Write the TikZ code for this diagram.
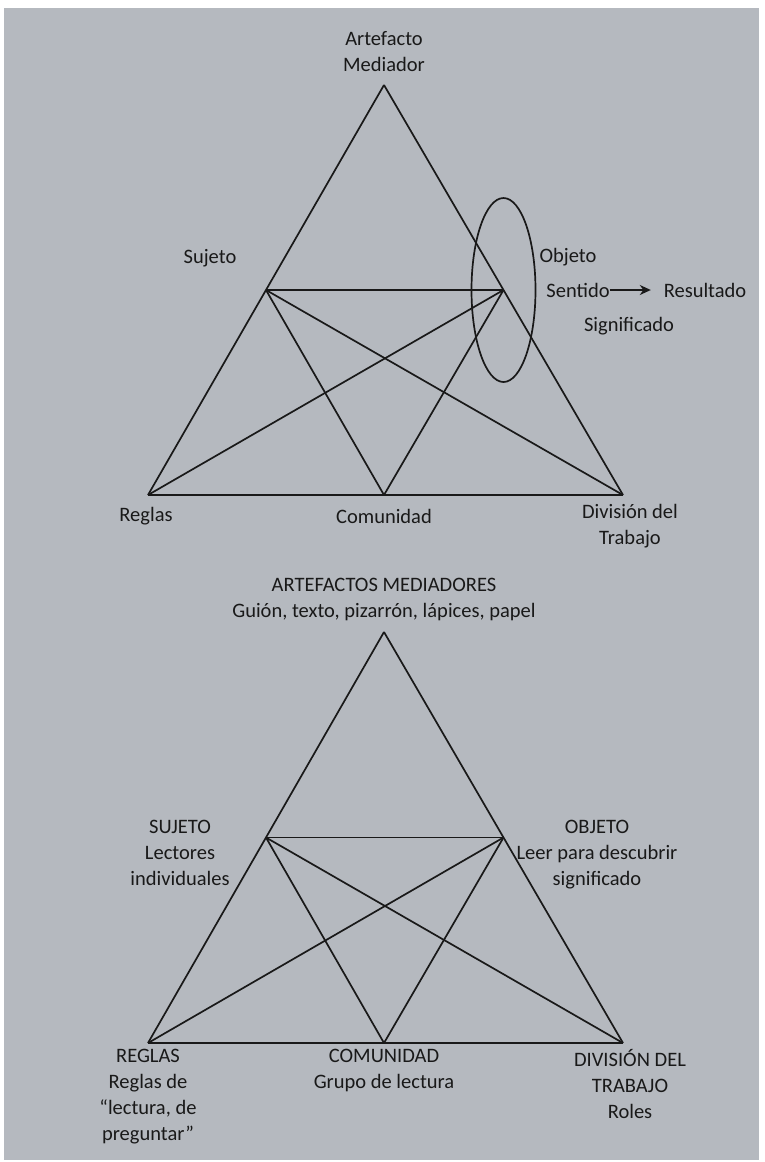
\documentclass[tikz,border=0pt]{standalone}
\usepackage{fontspec}
\setmainfont{Carlito}
\usetikzlibrary{arrows.meta,calc}
\definecolor{bg}{RGB}{181,185,191}
\definecolor{ink}{RGB}{25,25,25}
\begin{document}
\begin{tikzpicture}[x=1pt,y=-1pt,
  lbl/.style={inner sep=0pt, align=center, text=ink, font=\fontsize{20.5}{26}\selectfont},
  edge/.style={draw=ink, line width=1.7pt, line join=round}]
\useasboundingbox (0,0) rectangle (764,1162);
\fill[white] (0,0) rectangle (764,1162);
\fill[bg] (4,8) rectangle (759,1160);

% ---------- top triangle ----------
\coordinate (A1) at (384,85);
\coordinate (R1) at (148,495);
\coordinate (C1) at (384,495);
\coordinate (D1) at (623,495);
\coordinate (S1) at ($(A1)!0.5!(R1)$);
\coordinate (O1) at ($(A1)!0.5!(D1)$);
\draw[edge] (A1) -- (R1);
\draw[edge] (A1) -- (D1);
\draw[edge] (R1) -- (D1);
\draw[edge] (S1) -- (O1);
\draw[edge] (S1) -- (C1);
\draw[edge] (S1) -- (D1);
\draw[edge] (O1) -- (R1);
\draw[edge] (O1) -- (C1);
\draw[edge] (O1) ellipse [x radius=32, y radius=92];

\node[lbl] (art1) at (384,52) {Artefacto\\Mediador};
\node[lbl] (suj1) at (210,258) {Sujeto};
\node[lbl] (obj1) at (568,257) {Objeto};
\node[lbl] (sen1) at (578,290) {Sentido};
\node[lbl] (res1) at (705,290) {Resultado};
\node[lbl] (sig1) at (629,326) {Significado};
\draw[ink, line width=1.7pt, -{Stealth[length=11pt,width=10pt]}] (sen1.east) -- ++(41,0) coordinate (arrEnd);
\node[lbl] (reg1) at (146,516) {Reglas};
\node[lbl] (com1) at (384,516) {Comunidad};
\node[lbl, anchor=north] (div1) at (630,504) {División del\\Trabajo};

% ---------- bottom triangle ----------
\coordinate (A2) at (384,632);
\coordinate (R2) at (148,1043);
\coordinate (C2) at (384,1043);
\coordinate (D2) at (623,1043);
\coordinate (S2) at ($(A2)!0.5!(R2)$);
\coordinate (O2) at ($(A2)!0.5!(D2)$);
\draw[edge] (A2) -- (R2);
\draw[edge] (A2) -- (D2);
\draw[edge] (R2) -- (D2);
\draw[edge] (S2) -- (O2);
\draw[edge] (S2) -- (C2);
\draw[edge] (S2) -- (D2);
\draw[edge] (O2) -- (R2);
\draw[edge] (O2) -- (C2);

\node[lbl, anchor=north] (art2) at (384,578) {ARTEFACTOS MEDIADORES\\Guión, texto, pizarrón, lápices, papel};
\node[lbl, anchor=north] (suj2) at (180,820) {SUJETO\\Lectores\\individuales};
\node[lbl, anchor=north] (obj2) at (597,820) {OBJETO\\Leer para descubrir\\significado};
\node[lbl, anchor=north] (reg2) at (148,1049) {REGLAS\\Reglas de\\“lectura, de\\preguntar”};
\node[lbl, anchor=north] (com2) at (384,1049) {COMUNIDAD\\Grupo de lectura};
\node[lbl, anchor=north] (div2) at (630,1049) {DIVISIÓN DEL\\TRABAJO\\Roles};
\end{tikzpicture}
\end{document}
